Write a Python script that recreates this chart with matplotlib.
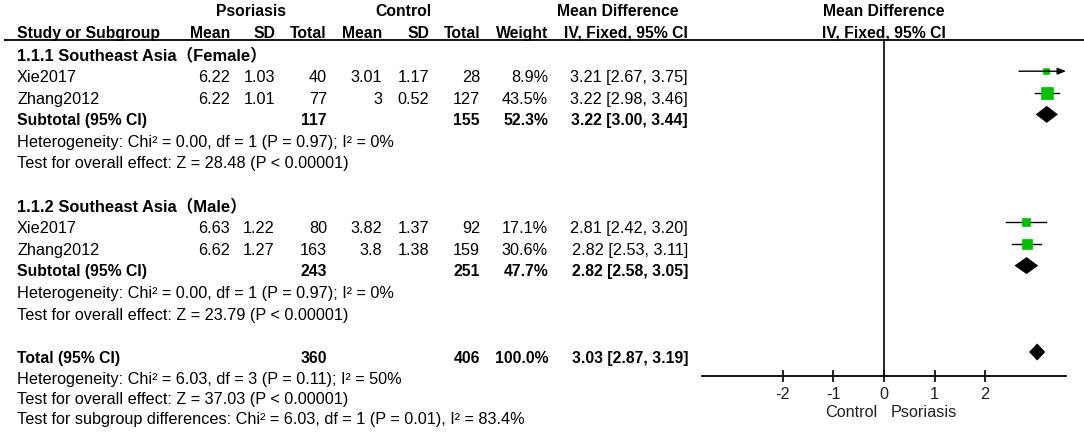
import matplotlib
matplotlib.use("Agg")
import matplotlib.pyplot as plt

plt.rcParams['font.family'] = ['Liberation Sans', 'Noto Sans CJK SC', 'DejaVu Sans']

# ---------------- data ----------------
group_labels = ['1.1.1 Southeast Asia（Female）', '1.1.2 Southeast Asia（Male）']
studies = [['Xie2017', 'Zhang2012'], ['Xie2017', 'Zhang2012']]
p_mean = [[6.22, 6.22], [6.63, 6.62]]
p_sd = [[1.03, 1.01], [1.22, 1.27]]
p_n = [[40, 77], [80, 163]]
c_mean = [[3.01, 3], [3.82, 3.8]]
c_sd = [[1.17, 0.52], [1.37, 1.38]]
c_n = [[28, 127], [92, 159]]
weights = [[8.9, 43.5], [17.1, 30.6]]
md = [[3.21, 3.22], [2.81, 2.82]]
md_lo = [[2.67, 2.98], [2.42, 2.53]]
md_hi = [[3.75, 3.46], [3.20, 3.11]]

sub_p_n = [117, 243]
sub_c_n = [155, 251]
sub_weight = [52.3, 47.7]
sub_md = [3.22, 2.82]
sub_lo = [3.00, 2.58]
sub_hi = [3.44, 3.05]
sub_het = ['Heterogeneity: Chi² = 0.00, df = 1 (P = 0.97); I² = 0%',
           'Heterogeneity: Chi² = 0.00, df = 1 (P = 0.97); I² = 0%']
sub_test = ['Test for overall effect: Z = 28.48 (P < 0.00001)',
            'Test for overall effect: Z = 23.79 (P < 0.00001)']

tot_p_n = 360
tot_c_n = 406
tot_weight = 100.0
tot_md = 3.03
tot_lo = 2.87
tot_hi = 3.19
tot_notes = ['Heterogeneity: Chi² = 6.03, df = 3 (P = 0.11); I² = 50%',
             'Test for overall effect: Z = 37.03 (P < 0.00001)',
             'Test for subgroup differences: Chi² = 6.03, df = 1 (P = 0.01), I² = 83.4%']

x_ticks = [-2, -1, 0, 1, 2]
x_lim = (-3.6, 3.6)
favours = ['Control', 'Psoriasis']

# ---------------- layout ----------------
W, H = 1084, 435
fig = plt.figure(figsize=(W / 100, H / 100), dpi=100)
ax = fig.add_axes([0, 0, 1, 1])
ax.set_xlim(0, W)
ax.set_ylim(H, 0)
ax.axis('off')

FS = 11.7      # regular text
FSB = 11.3     # bold text
LX = 17
cols = {'pm': 230, 'psd': 275, 'pn': 327, 'cm': 382, 'csd': 429, 'cn': 480, 'w': 548, 'ci': 688}
PLOT_L, PLOT_R = 702, 1066
ZERO_X = 884
AXIS_Y = 377
pitch = 21.6
row0 = 77.0          # text centre of first study row
moff = 4.8           # markers sit slightly above text centre
BL = 5.0             # baseline offset from text centre


def txt(x, yc, s, ha='left', bold=False, color='black', fs=None):
    if fs is None:
        fs = FSB if bold else FS
    ax.text(x, yc + BL, s, ha=ha, va='baseline', fontsize=fs,
            fontweight='bold' if bold else 'normal', color=color)


# headers
txt(251, 11, 'Psoriasis', ha='center', bold=True)
txt(403, 11, 'Control', ha='center', bold=True)
txt(618, 11, 'Mean Difference', ha='center', bold=True)
txt(ZERO_X, 11, 'Mean Difference', ha='center', bold=True)
txt(LX, 33, 'Study or Subgroup', bold=True)
for key, lab in [('pm', 'Mean'), ('psd', 'SD'), ('pn', 'Total'), ('cm', 'Mean'),
                 ('csd', 'SD'), ('cn', 'Total'), ('w', 'Weight')]:
    txt(cols[key], 33, lab, ha='right', bold=True)
txt(626, 33, 'IV, Fixed, 95% CI', ha='center', bold=True)
txt(ZERO_X, 33, 'IV, Fixed, 95% CI', ha='center', bold=True)
ax.plot([4, W], [40.5, 40.5], color='black', lw=1.3, solid_capstyle='butt')

# forest axes
axf = fig.add_axes([PLOT_L / W, 0, (PLOT_R - PLOT_L) / W, 1])
axf.set_xlim(*x_lim)
axf.set_ylim(H, 0)
axf.patch.set_alpha(0)
for s in ['top', 'left', 'right']:
    axf.spines[s].set_visible(False)
axf.spines['bottom'].set_position(('data', AXIS_Y))
axf.spines['bottom'].set_linewidth(1.3)
axf.set_yticks([])
axf.set_xticks(x_ticks)
axf.set_xticklabels([str(t) for t in x_ticks])
axf.tick_params(axis='x', direction='inout', length=8, width=1.2, pad=3,
                labelsize=FS, colors='black', labelcolor='#222222')
axf.plot([0, 0], [40.5, AXIS_Y], color='black', lw=1.2)

green = '#00c000'


def study_marker(y, m, lo, hi, w):
    ym = y - moff
    if hi > x_lim[1]:
        axf.annotate('', xy=(x_lim[1], ym), xytext=(lo, ym),
                     arrowprops=dict(arrowstyle='-|>,head_length=0.5,head_width=0.2',
                                     color='black', lw=1.0, shrinkA=0, shrinkB=0))
    else:
        axf.plot([lo, hi], [ym, ym], color='black', lw=1.0)
    axf.plot([m], [ym], marker='s', ms=1.3 * w ** 0.5, color=green, mec=green, mew=0.5, ls='none')


def diamond(y, m, lo, hi):
    ym = y - moff
    axf.fill([lo, m, hi, m], [ym, ym - 8.5, ym, ym + 8.5], color='black', lw=0)


r = 0
for g in range(2):
    txt(LX, row0 + (r - 1) * pitch, group_labels[g], bold=True, fs=11.9)
    for i in range(len(studies[g])):
        y = row0 + r * pitch
        txt(LX, y, studies[g][i])
        txt(cols['pm'], y, f"{p_mean[g][i]:g}", ha='right')
        txt(cols['psd'], y, f"{p_sd[g][i]:g}", ha='right')
        txt(cols['pn'], y, f"{p_n[g][i]}", ha='right')
        txt(cols['cm'], y, f"{c_mean[g][i]:g}", ha='right')
        txt(cols['csd'], y, f"{c_sd[g][i]:g}", ha='right')
        txt(cols['cn'], y, f"{c_n[g][i]}", ha='right')
        txt(cols['w'], y, f"{weights[g][i]:.1f}%", ha='right')
        txt(cols['ci'], y, f"{md[g][i]:.2f} [{md_lo[g][i]:.2f}, {md_hi[g][i]:.2f}]", ha='right')
        study_marker(y, md[g][i], md_lo[g][i], md_hi[g][i], weights[g][i])
        r += 1
    y = row0 + r * pitch
    txt(LX, y, 'Subtotal (95% CI)', bold=True)
    txt(cols['pn'], y, f"{sub_p_n[g]}", ha='right', bold=True)
    txt(cols['cn'], y, f"{sub_c_n[g]}", ha='right', bold=True)
    txt(cols['w'], y, f"{sub_weight[g]:.1f}%", ha='right', bold=True)
    txt(cols['ci'], y, f"{sub_md[g]:.2f} [{sub_lo[g]:.2f}, {sub_hi[g]:.2f}]", ha='right', bold=True)
    diamond(y, sub_md[g], sub_lo[g], sub_hi[g])
    r += 1
    txt(LX, row0 + r * pitch, sub_het[g]); r += 1
    txt(LX, row0 + r * pitch, sub_test[g]); r += 1
    r += 2  # blank row + next group label row

r -= 1
y = row0 + r * pitch
txt(LX, y, 'Total (95% CI)', bold=True)
txt(cols['pn'], y, f"{tot_p_n}", ha='right', bold=True)
txt(cols['cn'], y, f"{tot_c_n}", ha='right', bold=True)
txt(cols['w'], y, f"{tot_weight:.1f}%", ha='right', bold=True)
txt(cols['ci'], y, f"{tot_md:.2f} [{tot_lo:.2f}, {tot_hi:.2f}]", ha='right', bold=True)
diamond(y, tot_md, tot_lo, tot_hi)
note_pitch = 20.0
for k, note in enumerate(tot_notes):
    txt(LX, y + 21 + k * note_pitch, note)

# favours labels
txt(ZERO_X - 7, 412, favours[0], ha='right', color='#222222')
txt(ZERO_X + 7, 412, favours[1], ha='left', color='#222222')

fig.savefig('out.png', dpi=100)
